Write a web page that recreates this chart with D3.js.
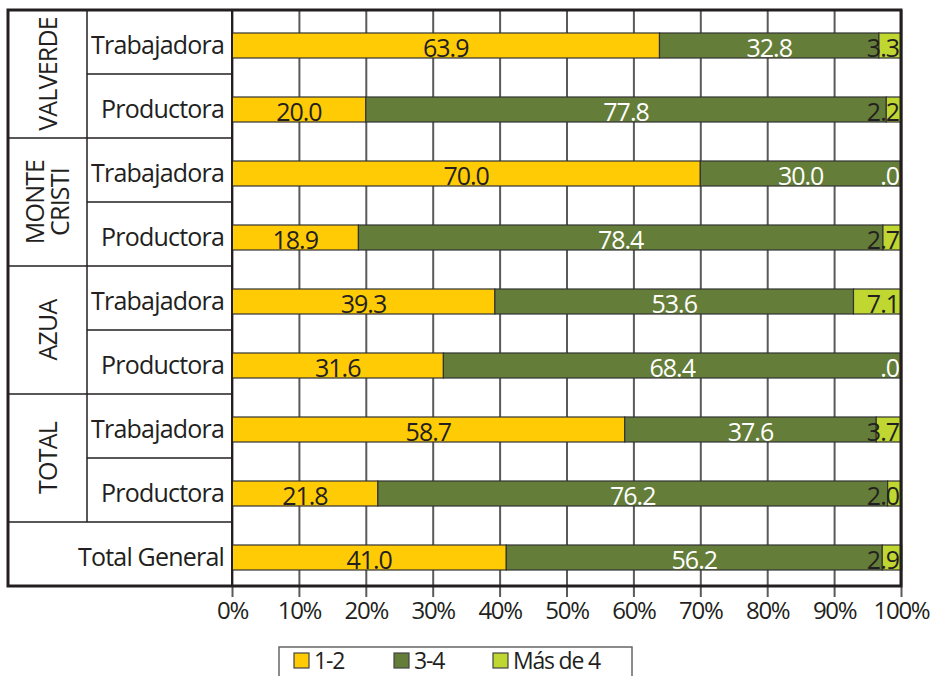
<!DOCTYPE html>
<html>
<head>
<meta charset="utf-8">
<script src="https://cdn.jsdelivr.net/npm/d3@7"></script>
<style>
  body { margin: 0; background: #fff; }
  text { font-family: "Open Sans", "Noto Sans", sans-serif; }
</style>
</head>
<body>
<div id="chart"></div>
<script>
(function() {
    var width = 939;
    var height = 676;

    // data
    var groups = ["VALVERDE", "MONTE CRISTI", "AZUA", "TOTAL"];
    var rowLabels = ["Trabajadora", "Productora", "Trabajadora", "Productora",
        "Trabajadora", "Productora", "Trabajadora", "Productora", "Total General"];
    var series = ["1-2", "3-4", "Más de 4"];
    var v12 = [63.9, 20.0, 70.0, 18.9, 39.3, 31.6, 58.7, 21.8, 41.0];
    var v34 = [32.8, 77.8, 30.0, 78.4, 53.6, 68.4, 37.6, 76.2, 56.2];
    var v4 = [3.3, 2.2, 0.0, 2.7, 7.1, 0.0, 3.7, 2.0, 2.9];
    var ticks = [0, 10, 20, 30, 40, 50, 60, 70, 80, 90, 100];

    var colors = ["#FFCB05", "#647D38", "#BFD730"];
    var labelColors = ["#231f20", "#ffffff", "#231f20"];

    var rows = rowLabels.map((d, i) => ({ i: i, label: d, vals: [v12[i], v34[i], v4[i]] }));

    var svg = d3.select("#chart")
    .append("svg")
    .attr("width", width)
    .attr("height", height);

    var left = 8, col2 = 87, plotL = 232, plotR = 901, top = 10, bottom = 586;

    var xScale = d3.scaleLinear().domain([0, 100]).range([plotL, plotR]);
    var yScale = d3.scaleBand().domain(d3.range(rows.length)).range([top, bottom]);
    var bh = 25, boff = 23;

    // gridlines + ticks
    svg.append('g')
    .attr('transform', `translate(0, ${bottom})`)
    .call(d3.axisBottom(xScale).tickValues(ticks).tickSize(-(bottom - top)).tickSizeOuter(0).tickFormat(''))
    .call(g => g.select('.domain').remove())
    .call(g => g.selectAll('line').attr('stroke', '#5a5a5a').attr('stroke-width', 2));

    svg.append('g')
    .attr('transform', `translate(0, ${bottom})`)
    .call(d3.axisBottom(xScale).tickValues(ticks).tickSize(11).tickPadding(5).tickFormat(d => d + '%'))
    .call(g => g.select('.domain').remove())
    .call(g => g.selectAll('line').attr('stroke', '#5a5a5a').attr('stroke-width', 2))
    .call(g => g.selectAll('text').attr('font-size', 24).attr('fill', '#231f20')
        .style('font-family', '"Open Sans", sans-serif').attr('letter-spacing', -1.3));

    // bars
    var barGroups = svg.selectAll('.row')
    .data(rows)
    .enter()
    .append('g')
    .attr('class', 'row');

    barGroups.each(function(r) {
        var g = d3.select(this);
        var cum = 0;
        r.vals.forEach(function(v, k) {
            var x0 = cum;
            cum += v;
            if (v > 0) {
                g.append('rect')
                .attr('x', xScale(x0))
                .attr('y', yScale(r.i) + boff)
                .attr('width', xScale(cum) - xScale(x0))
                .attr('height', bh)
                .attr('fill', colors[k])
                .attr('stroke', '#333')
                .attr('stroke-width', 1.2);
            }
            var txt = v === 0 ? '.0' : v.toFixed(1);
            var lx, anchor;
            if (k === 2) { lx = plotR - 2; anchor = 'end'; }
            else { lx = (xScale(x0) + xScale(cum)) / 2; anchor = 'middle'; }
            g.append('text')
            .attr('x', lx)
            .attr('y', yScale(r.i) + boff + bh - 1)
            .attr('text-anchor', anchor)
            .attr('font-size', 25)
            .attr('letter-spacing', -1)
            .attr('fill', v === 0 ? '#fff' : labelColors[k])
            .text(txt);
        });
    });

    // label table lines
    var lineCol = '#231f20';
    var step = yScale.step();
    for (var i = 1; i < rows.length; i++) {
        var yy = top + i * step;
        var x1 = (i % 2 === 0) ? left : col2;
        svg.append('line').attr('x1', x1).attr('x2', plotL).attr('y1', yy).attr('y2', yy)
        .attr('stroke', lineCol).attr('stroke-width', 1.5);
    }
    svg.append('line').attr('x1', col2).attr('x2', col2).attr('y1', top).attr('y2', top + 8 * step)
    .attr('stroke', lineCol).attr('stroke-width', 1.5);
    svg.append('line').attr('x1', plotL).attr('x2', plotL).attr('y1', top).attr('y2', bottom)
    .attr('stroke', lineCol).attr('stroke-width', 2);

    // outer frame
    svg.append('rect')
    .attr('x', left).attr('y', top)
    .attr('width', plotR - left).attr('height', bottom - top)
    .attr('fill', 'none').attr('stroke', lineCol).attr('stroke-width', 3);

    // row labels
    svg.selectAll('.rl')
    .data(rows)
    .enter()
    .append('text')
    .attr('x', plotL - 8)
    .attr('y', d => yScale(d.i) + step / 2 + 12)
    .attr('text-anchor', 'end')
    .attr('font-size', 25)
    .attr('letter-spacing', -0.8)
    .attr('fill', '#231f20')
    .text(d => d.label);

    // group labels
    groups.forEach(function(gname, gi) {
        var cy = top + (gi * 2 + 1) * step;
        var parts = gname.split(' ');
        var cx = (left + col2) / 2;
        parts.forEach(function(p, pi) {
            var off = (pi - (parts.length - 1) / 2) * 25;
            svg.append('text')
            .attr('transform', `translate(${cx + off + 9}, ${cy}) rotate(-90)`)
            .attr('text-anchor', 'middle')
            .attr('font-size', 25)
            .attr('letter-spacing', -0.8)
            .attr('fill', '#231f20')
            .text(p);
        });
    });

    // legend
    var lg = svg.append('g');
    lg.append('rect')
    .attr('x', 279).attr('y', 647).attr('width', 353).attr('height', 40)
    .attr('fill', '#fff').attr('stroke', '#666').attr('stroke-width', 1.5);
    var lx = [294, 394, 493];
    series.forEach(function(s, k) {
        lg.append('rect')
        .attr('x', lx[k]).attr('y', 653).attr('width', 15).attr('height', 15)
        .attr('fill', colors[k]).attr('stroke', '#444').attr('stroke-width', 1.2);
        lg.append('text')
        .attr('x', lx[k] + 20).attr('y', 669)
        .attr('font-size', 23)
        .attr('letter-spacing', -1.2)
        .attr('fill', '#231f20')
        .text(s);
    });
})();
</script>
</body>
</html>
